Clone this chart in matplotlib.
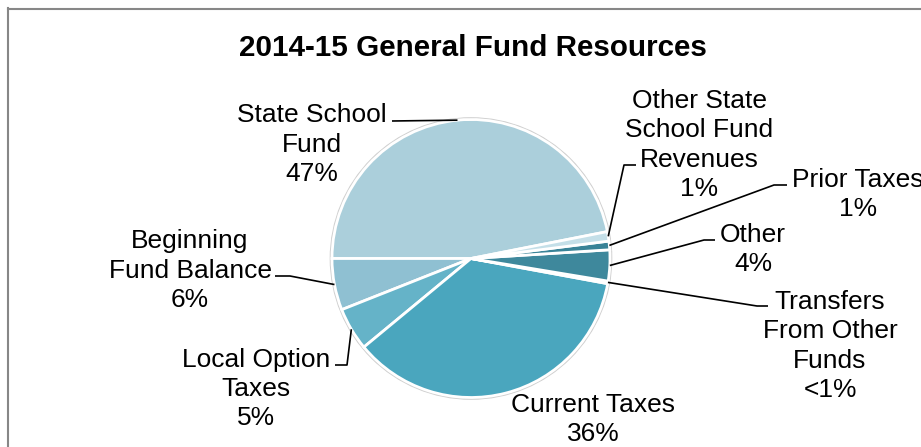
import matplotlib
matplotlib.use("Agg")
import numpy as np
import matplotlib.pyplot as plt
from matplotlib.patches import Circle
from matplotlib.lines import Line2D

# Resources, listed counter-clockwise starting with the State School Fund
categories = [
    "State School\nFund",
    "Beginning\nFund Balance",
    "Local Option\nTaxes",
    "Current Taxes",
    "Transfers\nFrom Other\nFunds",
    "Other",
    "Prior Taxes",
    "Other State\nSchool Fund\nRevenues",
]
shares = [46.9, 6.0, 5.0, 36.1, 0.3, 3.6, 1.0, 1.1]
colors = ["#abcfdb", "#8fc0d2", "#65b3c8", "#4aa6be",
          "#a6cfdc", "#3e889c", "#398397", "#c4dfe8"]
title = "2014-15 General Fund Resources"

W, H = 921, 447
fig = plt.figure(figsize=(W / 100, H / 100), dpi=100)
ax = fig.add_axes([0, 0, 1, 1])


def Y(y):
    """Convert a top-down pixel row into the axes' bottom-up coordinate."""
    return H - y


cx, cy, r = 471.0, Y(258.5), 139.0
total = sum(shares)
start = 180.0 - shares[0] / total * 360.0

ax.add_patch(Circle((cx, cy), r + 1.2, facecolor="none",
                    edgecolor="#cfcfcf", lw=1.6, zorder=0))
wedges, _ = ax.pie(shares, colors=colors, startangle=start, counterclock=True,
                   center=(cx, cy), radius=r,
                   wedgeprops=dict(edgecolor="white", linewidth=2.0))
ax.set_xlim(0, W)
ax.set_ylim(0, H)
ax.set_aspect("auto")
ax.axis("off")


def label_text(v):
    p = v / total * 100
    return "<1%" if p < 0.5 else f"{round(p):.0f}%"


font = "Liberation Sans"
# text centre (x, y) and leader elbow path for each label
label_pos = [
    (312, 144.5), (190, 270.5), (256, 389), (593, 419.5),
    (830, 346), (753, 249.5), (858, 194.5), (699, 145),
]
leader_paths = [
    [(392, 121)],
    [(275, 276), (290, 276)],
    [(335, 365), (347, 365)],
    None,
    [(768, 306), (757, 306)],
    [(715, 240), (704, 240)],
    [(787, 185), (774, 185)],
    [(636, 165), (624, 165)],
]

for w, cat, v, (tx, ty), path in zip(wedges, categories, shares,
                                     label_pos, leader_paths):
    ax.text(tx, Y(ty), f"{cat}\n{label_text(v)}", ha="center", va="center",
            multialignment="center", fontsize=19, family=font,
            linespacing=1.28, color="black")
    if path is None:
        continue
    mid = np.deg2rad((w.theta1 + w.theta2) / 2)
    ax_x = cx + r * np.cos(mid)
    ax_y = cy + r * np.sin(mid)
    xs = [p[0] for p in path] + [ax_x]
    ys = [Y(p[1]) for p in path] + [ax_y]
    ax.plot(xs, ys, color="black", lw=1.2, solid_capstyle="butt", zorder=5)

ax.text(473, Y(56), title, ha="center", va="baseline", fontsize=21.3,
        fontweight="bold", family=font, color="black")

# chart-area border (top and left edges)
fig.add_artist(Line2D([7.5 / W, 7.5 / W], [0, Y(8) / H],
                      color="#878787", lw=1.5, transform=fig.transFigure))
fig.add_artist(Line2D([7.5 / W, 1], [Y(8.5) / H, Y(8.5) / H],
                      color="#878787", lw=1.5, transform=fig.transFigure))

fig.savefig("out.png", dpi=100, facecolor="white")
